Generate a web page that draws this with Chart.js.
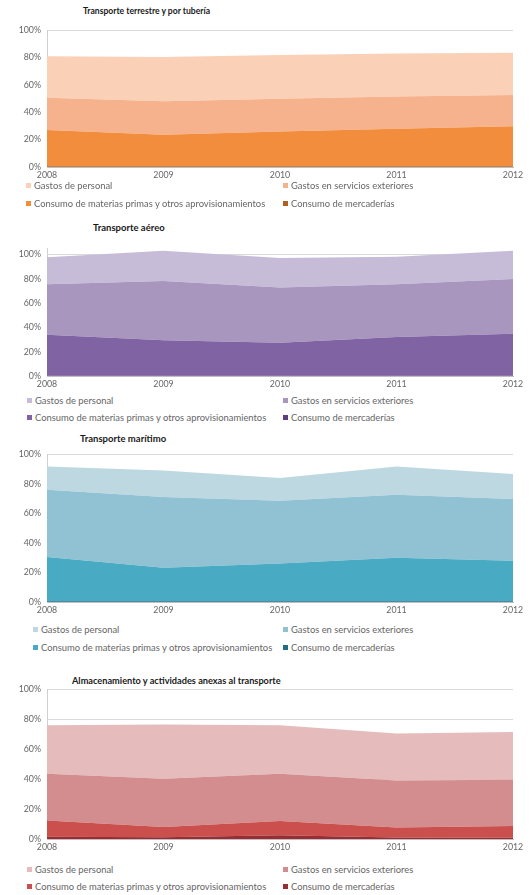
<!DOCTYPE html>
<html>
<head>
<meta charset="utf-8">
<script src="https://cdn.jsdelivr.net/npm/chart.js@4/dist/chart.umd.min.js"></script>
<style>
    body { margin: 0; background: #fff; width: 530px; height: 895px; position: relative; overflow: hidden; font-family: Lato, "Open Sans", sans-serif; }
    canvas { position: absolute; left: 0; }
    .title { position: absolute; font-weight: bold; color: #1a1a1a; white-space: nowrap; line-height: 1; }
    .legend-item { position: absolute; font-size: 9.4px; color: #666; white-space: nowrap; line-height: 1; }
    .legend-item span { display: inline-block; width: 5px; height: 5px; margin-right: 3px; vertical-align: 1px; }
</style>
</head>
<body>
<div class="title" style="left:83px; top:7px; font-size:8.6px;">Transporte terrestre y por tubería</div>
<canvas id="chart-terrestre" width="530" height="164" style="top:19px"></canvas>

<div class="title" style="left:93px; top:223px; font-size:9.5px;">Transporte aéreo</div>
<canvas id="chart-aereo" width="530" height="155" style="top:237px"></canvas>

<div class="title" style="left:80px; top:434px; font-size:9.5px;">Transporte marítimo</div>
<canvas id="chart-maritimo" width="530" height="175" style="top:443px"></canvas>

<div class="title" style="left:72px; top:676px; font-size:9.2px;">Almacenamiento y actividades anexas al transporte</div>
<canvas id="chart-almacen" width="530" height="177" style="top:678px"></canvas>

<div id="legends"></div>

<script>
// Years on the x axis
const years = ["2008", "2009", "2010", "2011", "2012"];

// Series names, bottom of the stack first
const series_names = [
    "Consumo de mercaderías",
    "Consumo de materias primas y otros aprovisionamientos",
    "Gastos en servicios exteriores",
    "Gastos de personal"
];

// Legend order as shown under each chart
const legend_order = [3, 2, 1, 0];

// Transporte terrestre y por tubería (% per cost item)
const terrestre_mercaderias = [0.6, 0.6, 0.6, 0.6, 0.6];
const terrestre_materias = [26.4, 22.9, 25.4, 27.4, 29.2];
const terrestre_servicios = [23.7, 24.5, 24.0, 23.6, 22.8];
const terrestre_personal = [30.3, 32.5, 32.0, 31.4, 31.0];

// Transporte aéreo
const aereo_mercaderias = [0.3, 0.3, 0.3, 0.3, 0.3];
const aereo_materias = [33.7, 29.1, 27.0, 31.7, 34.5];
const aereo_servicios = [41.4, 48.6, 45.4, 43.4, 44.9];
const aereo_personal = [22.2, 25.0, 24.3, 22.6, 23.3];

// Transporte marítimo
const maritimo_mercaderias = [0.5, 0.5, 0.5, 0.5, 0.5];
const maritimo_materias = [30.0, 22.7, 25.5, 29.5, 27.5];
const maritimo_servicios = [45.5, 47.8, 42.6, 42.6, 41.7];
const maritimo_personal = [15.8, 18.0, 15.4, 19.2, 17.0];

// Almacenamiento y actividades anexas al transporte
const almacen_mercaderias = [1.5, 1.2, 2.5, 1.0, 0.8];
const almacen_materias = [10.9, 6.8, 9.5, 6.6, 7.9];
const almacen_servicios = [31.1, 32.2, 31.5, 31.4, 30.9];
const almacen_personal = [32.4, 36.3, 32.4, 31.4, 31.9];

// Colour schemes, bottom of the stack first
const terrestre_colors = ["#b25f22", "#f28d3e", "#f6b28c", "#fad0b7"];
const aereo_colors = ["#5b3f80", "#8063a2", "#a896bf", "#c6bcd8"];
const maritimo_colors = ["#1f6e85", "#49aac4", "#91c2d4", "#bed8e2"];
const almacen_colors = ["#9a2d33", "#cb4f4d", "#d38d8e", "#e6bbbc"];

const tick_font = { family: "Lato", size: 8.8 };

function create_area_chart(canvas_id, values, colors, y_max) {
    const ctx = document.getElementById(canvas_id).getContext("2d");

    const datasets = values.map((data, i) => ({
        label: series_names[i],
        data: data,
        backgroundColor: colors[i],
        borderWidth: 0,
        pointRadius: 0,
        tension: 0,
        fill: i === 0 ? "origin" : "-1"
    }));

    const config = {
        type: "line",
        data: { labels: years, datasets: datasets },
        options: {
            responsive: false,
            animation: false,
            devicePixelRatio: 1,
            layout: { padding: { top: 8, right: 17, left: 0, bottom: 0 } },
            scales: {
                x: {
                    offset: false,
                    grid: { display: false, drawTicks: false },
                    border: { color: "#bfbfbf" },
                    ticks: { color: "#666", font: tick_font, padding: 3, maxRotation: 0 },
                    afterFit: (scale) => { scale.height = 16; }
                },
                y: {
                    stacked: true,
                    min: 0,
                    max: y_max,
                    grid: { color: "#d9d9d9", drawTicks: false },
                    border: { color: "#d0d0d0" },
                    ticks: {
                        stepSize: 20,
                        includeBounds: false,
                        padding: 6,
                        color: "#666",
                        font: tick_font,
                        callback: (v) => v + "%"
                    },
                    afterFit: (scale) => { scale.width = 47; }
                }
            },
            plugins: {
                legend: { display: false },
                tooltip: { enabled: false }
            }
        }
    };

    return new Chart(ctx, config);
}

// Build the two-column legends under each chart
function create_legend(colors, row1_top, row2_top, left) {
    const holder = document.getElementById("legends");
    legend_order.forEach((idx, n) => {
        const item = document.createElement("div");
        item.className = "legend-item";
        item.style.top = (n < 2 ? row1_top : row2_top) + "px";
        item.style.left = (n % 2 === 0 ? left : 283) + "px";
        item.innerHTML = '<span style="background:' + colors[idx] + '"></span>' + series_names[idx];
        holder.appendChild(item);
    });
}

create_area_chart("chart-terrestre",
    [terrestre_mercaderias, terrestre_materias, terrestre_servicios, terrestre_personal],
    terrestre_colors, 100);
create_area_chart("chart-aereo",
    [aereo_mercaderias, aereo_materias, aereo_servicios, aereo_personal],
    aereo_colors, 105);
create_area_chart("chart-maritimo",
    [maritimo_mercaderias, maritimo_materias, maritimo_servicios, maritimo_personal],
    maritimo_colors, 100);
create_area_chart("chart-almacen",
    [almacen_mercaderias, almacen_materias, almacen_servicios, almacen_personal],
    almacen_colors, 100);

create_legend(terrestre_colors, 181, 199, 26);
create_legend(aereo_colors, 396, 413, 27);
create_legend(maritimo_colors, 625, 643, 33);
create_legend(almacen_colors, 865, 882, 27);
</script>
</body>
</html>
